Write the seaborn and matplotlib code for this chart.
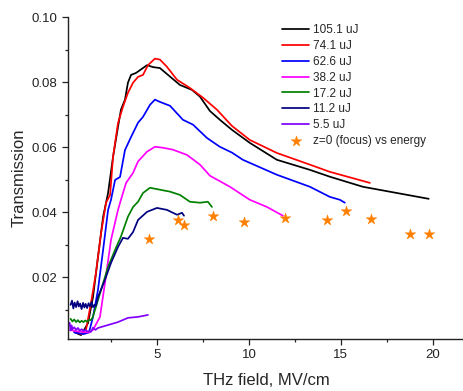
import matplotlib
matplotlib.use("Agg")
import matplotlib.pyplot as plt
import seaborn as sns
from matplotlib.ticker import MultipleLocator, FormatStrFormatter

# ---- data ----
labels = ["105.1 uJ", "74.1 uJ", "62.6 uJ", "38.2 uJ", "17.2 uJ", "11.2 uJ", "5.5 uJ"]
colors = ["#000000", "#FF0000", "#0000FF", "#FF00FF", "#008000", "#000080", "#8000FF"]

x_105 = [0.50, 0.70, 0.87, 1.25, 1.52, 1.79, 2.07, 2.34, 2.61, 2.88, 3.04, 3.26, 3.42, 3.59, 3.86,
         4.46, 4.78, 5.16, 5.60, 6.25, 6.90, 7.34, 7.88, 8.42, 9.08, 10.05, 11.52, 13.32, 14.40,
         16.20, 18.04, 19.78]
y_105 = [0.0032, 0.0026, 0.0022, 0.0059, 0.0139, 0.0262, 0.0386, 0.0459, 0.0570, 0.0662, 0.0715,
         0.0746, 0.0798, 0.0822, 0.0828, 0.0852, 0.0846, 0.0843, 0.0822, 0.0791, 0.0776, 0.0755,
         0.0711, 0.0684, 0.0653, 0.0613, 0.0561, 0.0530, 0.0509, 0.0478, 0.0459, 0.0441]

x_74 = [0.60, 0.90, 1.14, 1.41, 1.68, 1.96, 2.23, 2.45, 2.61, 2.88, 3.15, 3.42, 3.70, 3.97, 4.24,
        4.51, 4.89, 5.16, 5.54, 6.09, 6.79, 7.50, 8.26, 9.08, 10.05, 11.52, 13.32, 14.40, 16.58]
y_74 = [0.0030, 0.0025, 0.0038, 0.0121, 0.0213, 0.0336, 0.0429, 0.0453, 0.0570, 0.0674, 0.0724,
        0.0767, 0.0798, 0.0816, 0.0822, 0.0852, 0.0872, 0.0869, 0.0847, 0.0807, 0.0782, 0.0752,
        0.0715, 0.0665, 0.0622, 0.0582, 0.0546, 0.0524, 0.0490]

x_62 = [0.50, 1.00, 1.30, 1.52, 1.79, 2.07, 2.34, 2.50, 2.72, 2.99, 3.26, 3.59, 3.97, 4.24, 4.62,
        4.89, 5.16, 5.71, 6.41, 6.96, 7.72, 8.42, 9.08, 9.67, 11.52, 13.32, 14.40, 14.95, 15.22]
y_62 = [0.0030, 0.0025, 0.0030, 0.0078, 0.0161, 0.0284, 0.0407, 0.0438, 0.0499, 0.0508, 0.0591,
        0.0631, 0.0675, 0.0693, 0.0730, 0.0746, 0.0739, 0.0727, 0.0684, 0.0669, 0.0628, 0.0601,
        0.0583, 0.0561, 0.0515, 0.0478, 0.0447, 0.0438, 0.0429]

x_38 = [0.27, 0.60, 1.00, 1.30, 1.52, 1.90, 2.17, 2.50, 2.88, 3.04, 3.32, 3.70, 3.97, 4.46, 4.89,
        5.33, 5.87, 6.63, 7.34, 7.88, 8.97, 10.05, 10.98, 11.85]
y_38 = [0.0038, 0.0034, 0.0032, 0.0030, 0.0038, 0.0078, 0.0182, 0.0315, 0.0407, 0.0438, 0.0490,
        0.0521, 0.0556, 0.0586, 0.0601, 0.0598, 0.0592, 0.0576, 0.0546, 0.0512, 0.0478, 0.0438,
        0.0416, 0.0389]

x_17 = [0.30, 0.40, 0.50, 0.60, 0.70, 0.80, 0.90, 1.00, 1.10, 1.20, 1.30, 1.40, 1.50, 1.68, 1.96,
        2.34, 2.72, 3.04, 3.42, 3.70, 3.97, 4.24, 4.62, 5.16, 5.71, 6.25, 6.79, 7.34, 7.77, 7.99]
y_17 = [0.0072, 0.0064, 0.0070, 0.0062, 0.0068, 0.0061, 0.0066, 0.0062, 0.0067, 0.0063, 0.0069,
        0.0068, 0.0076, 0.0109, 0.0161, 0.0232, 0.0284, 0.0325, 0.0386, 0.0416, 0.0432, 0.0459,
        0.0475, 0.0469, 0.0463, 0.0453, 0.0432, 0.0429, 0.0432, 0.0416]

x_11 = [0.30, 0.38, 0.45, 0.52, 0.60, 0.68, 0.75, 0.82, 0.90, 0.98, 1.05, 1.12, 1.20, 1.28, 1.36,
        1.44, 1.52, 1.60, 1.68, 1.79, 2.17, 2.50, 2.88, 3.15, 3.42, 3.70, 3.97, 4.46, 5.00, 5.54,
        6.09, 6.36, 6.47]
y_11 = [0.0115, 0.0128, 0.0104, 0.0122, 0.0108, 0.0126, 0.0110, 0.0119, 0.0102, 0.0121, 0.0107,
        0.0118, 0.0105, 0.0120, 0.0110, 0.0124, 0.0108, 0.0115, 0.0112, 0.0139, 0.0192, 0.0244,
        0.0293, 0.0321, 0.0318, 0.0339, 0.0376, 0.0401, 0.0413, 0.0407, 0.0392, 0.0398, 0.0389]

x_5 = [0.25, 0.30, 0.35, 0.40, 0.50, 0.60, 0.70, 0.80, 0.90, 1.00, 1.10, 1.20, 1.41, 1.52, 1.65,
       1.79, 2.34, 2.88, 3.42, 3.97, 4.51]
y_5 = [0.0060, 0.0036, 0.0052, 0.0040, 0.0046, 0.0038, 0.0044, 0.0036, 0.0040, 0.0035, 0.0038,
       0.0034, 0.0032, 0.0045, 0.0038, 0.0044, 0.0053, 0.0062, 0.0075, 0.0078, 0.0084]

star_x = [4.57, 6.14, 6.47, 8.04, 9.73, 11.96, 14.24, 15.27, 16.63, 18.75, 19.78]
star_y = [0.0317, 0.0375, 0.0360, 0.0388, 0.0369, 0.0382, 0.0375, 0.0403, 0.0378, 0.0332, 0.0332]
star_label = "z=0 (focus) vs energy"

series_x = [x_105, x_74, x_62, x_38, x_17, x_11, x_5]
series_y = [y_105, y_74, y_62, y_38, y_17, y_11, y_5]

# ---- style ----
sns.set_style("ticks")
plt.rcParams["font.family"] = ["Liberation Sans", "DejaVu Sans"]

fig = plt.figure(figsize=(4.64, 3.91), dpi=100)
ax = fig.add_axes([68 / 464, 1 - 339 / 391, 1 - 68 / 464, (339 - 17) / 391])

for xs, ys, c, lab in zip(series_x, series_y, colors, labels):
    sns.lineplot(x=xs, y=ys, color=c, linewidth=1.25, label=lab, sort=False,
                 estimator=None, ax=ax)

sns.scatterplot(x=star_x, y=star_y, marker="*", s=65, color="#FF8000",
                edgecolor="#FF8000", linewidth=0.3, label=star_label, ax=ax, zorder=5)

ax.set_xlim(0.16, 21.7)
ax.set_ylim(0.001, 0.10)
ax.xaxis.set_major_locator(MultipleLocator(5))
ax.xaxis.set_minor_locator(MultipleLocator(2.5))
ax.yaxis.set_major_locator(MultipleLocator(0.02))
ax.yaxis.set_minor_locator(MultipleLocator(0.01))
ax.yaxis.set_major_formatter(FormatStrFormatter("%.2f"))

for s in ["top", "right"]:
    ax.spines[s].set_visible(False)
for s in ["left", "bottom"]:
    ax.spines[s].set_linewidth(1.0)
    ax.spines[s].set_color("#222222")

ax.tick_params(axis="both", which="major", length=4.5, width=0.9, labelsize=9.5,
               pad=3, colors="#222222")
ax.tick_params(axis="both", which="minor", length=2.5, width=0.9, colors="#222222")

ax.set_xlabel("THz field, MV/cm", fontsize=12, labelpad=8)
ax.set_ylabel("Transmission", fontsize=12, labelpad=4)

leg = ax.legend(loc="upper left", bbox_to_anchor=(282 / 464, 1 - 24 / 391),
                bbox_transform=fig.transFigure, frameon=False, fontsize=8.5,
                handlelength=2.3, handletextpad=0.35, labelspacing=0.33,
                borderpad=0, borderaxespad=0)

fig.savefig("out.png", dpi=100)
